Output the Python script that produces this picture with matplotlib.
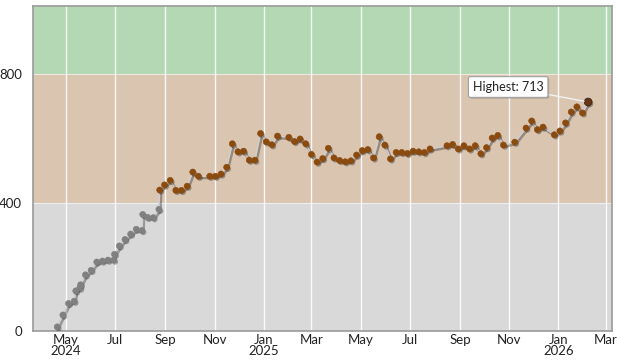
import numpy as np
import pandas as pd
import matplotlib
matplotlib.use("Agg")
import matplotlib.pyplot as plt
import matplotlib.dates as mdates
import matplotlib.patheffects as pe

plt.rcParams['font.family'] = ['Lato', 'DejaVu Sans']

# weekly readings (Saturdays), a few extra readings one or two days later
dates = [
    "2024-04-20", "2024-04-27", "2024-05-04", "2024-05-11", "2024-05-13",
    "2024-05-18", "2024-05-19", "2024-05-25", "2024-06-01", "2024-06-08",
    "2024-06-15", "2024-06-22", "2024-06-29", "2024-06-30", "2024-07-06",
    "2024-07-13", "2024-07-20", "2024-07-27", "2024-08-03", "2024-08-04",
    "2024-08-10", "2024-08-17", "2024-08-24", "2024-08-25", "2024-08-31",
    "2024-09-07", "2024-09-14", "2024-09-21", "2024-09-28", "2024-10-05",
    "2024-10-12", "2024-10-26", "2024-11-02", "2024-11-09", "2024-11-16",
    "2024-11-23", "2024-11-30", "2024-12-07", "2024-12-14", "2024-12-21",
    "2024-12-28", "2025-01-04", "2025-01-11", "2025-01-18", "2025-02-01",
    "2025-02-08", "2025-02-15", "2025-02-22", "2025-03-01", "2025-03-08",
    "2025-03-15", "2025-03-22", "2025-03-29", "2025-04-05", "2025-04-12",
    "2025-04-19", "2025-04-26", "2025-05-03", "2025-05-10", "2025-05-17",
    "2025-05-24", "2025-05-31", "2025-06-07", "2025-06-14", "2025-06-21",
    "2025-06-28", "2025-07-05", "2025-07-12", "2025-07-19", "2025-07-26",
    "2025-08-16", "2025-08-23", "2025-08-30", "2025-09-06", "2025-09-13",
    "2025-09-20", "2025-09-27", "2025-10-04", "2025-10-11", "2025-10-18",
    "2025-10-25", "2025-11-08", "2025-11-22", "2025-11-29", "2025-12-06",
    "2025-12-13", "2025-12-27", "2026-01-03", "2026-01-10", "2026-01-17",
    "2026-01-24", "2026-01-31", "2026-02-07",
]
values = [
    13, 50, 86, 93, 125,
    134, 144, 175, 189, 215,
    218, 221, 221, 239, 265,
    285, 302, 317, 313, 363,
    354, 353, 379, 439, 455,
    469, 438, 438, 451, 495,
    482, 482, 482, 489, 510,
    583, 558, 560, 532, 532,
    615, 589, 580, 607, 603,
    590, 598, 583, 550, 526,
    537, 569, 539, 531, 527,
    530, 548, 562, 565, 539,
    605, 579, 536, 556, 556,
    553, 560, 558, 556, 567,
    577, 581, 567, 577, 567,
    577, 552, 571, 601, 609,
    579, 588, 632, 654, 627,
    635, 611, 623, 648, 682,
    698, 679, 713,
]

band_edges = [0, 400, 800, 1012]
band_colors = ["#d9d9d9", "#dac5b1", "#b3d8b3"]
point_colors = ["#808080", "#8b4a0e", "#4f9a4f"]

df = pd.DataFrame({"date": pd.to_datetime(dates), "value": values})
df["color"] = [point_colors[int(v >= 400) + int(v >= 800)] for v in df["value"]]

fig = plt.figure(figsize=(6.17, 3.61), dpi=100)
ax = fig.add_axes([0.0535, 0.083, 0.939, 0.9005])

for lo, hi, c in zip(band_edges[:-1], band_edges[1:], band_colors):
    ax.axhspan(lo, hi, color=c, lw=0, zorder=0)

shadow = [pe.SimpleLineShadow(offset=(1, -1.2), shadow_color="k", alpha=0.3, linewidth=2.0), pe.Normal()]
ax.plot(df["date"], df["value"], color="#cfcfcf", lw=1.1, zorder=3, path_effects=shadow)

mshadow = [pe.SimplePatchShadow(offset=(1, -1.2), shadow_rgbFace="k", alpha=0.3), pe.Normal()]
body = df.iloc[:-1]
ax.scatter(body["date"], body["value"], s=19, c=body["color"], edgecolors=body["color"],
           linewidths=0.4, zorder=4, path_effects=mshadow)

top = df.iloc[df["value"].idxmax()]
ax.scatter([top["date"]], [top["value"]], s=30, c="#6a3510", edgecolors="#3a2a20",
           linewidths=0.7, zorder=5, path_effects=mshadow)

ax.annotate(f"Highest: {top['value']}", xy=(top["date"], top["value"]),
            xytext=(-80, 15), textcoords="offset pixels", ha="center", va="center",
            fontsize=9, color="#222222", zorder=6,
            bbox=dict(boxstyle="round,pad=0.35,rounding_size=0.15", fc="white", ec="#a0a0a0", lw=0.8,
                      path_effects=[pe.SimplePatchShadow(offset=(1, -1), alpha=0.25), pe.Normal()]),
            arrowprops=dict(arrowstyle="-", color="#f2f2f2", lw=1.0, shrinkA=0, shrinkB=3))

ax.set_xlim(pd.Timestamp("2024-03-21"), pd.Timestamp("2026-03-09"))
ax.set_ylim(0, 1012)

ticks = pd.date_range("2024-05-01", "2026-03-01", freq="2MS")
ax.set_xticks(ticks)
ax.set_xticklabels([t.strftime("%b") + ("\n" + t.strftime("%Y") if t.month == 1 or t == ticks[0] else "")
                    for t in ticks], linespacing=0.95)
ax.set_yticks([0, 400, 800])

ax.grid(axis="x", color="white", lw=1.0, alpha=0.9, zorder=1)
ax.grid(axis="y", color="white", lw=0.8, alpha=0.6, zorder=1)
ax.set_axisbelow(True)
ax.tick_params(length=0, labelsize=9.5, colors="#222222")
ax.tick_params(axis="y", pad=8)
ax.tick_params(axis="x", pad=2)
for s in ax.spines.values():
    s.set_color("#9a9a9a")
    s.set_linewidth(1.2)

fig.savefig("out.png", dpi=100)
